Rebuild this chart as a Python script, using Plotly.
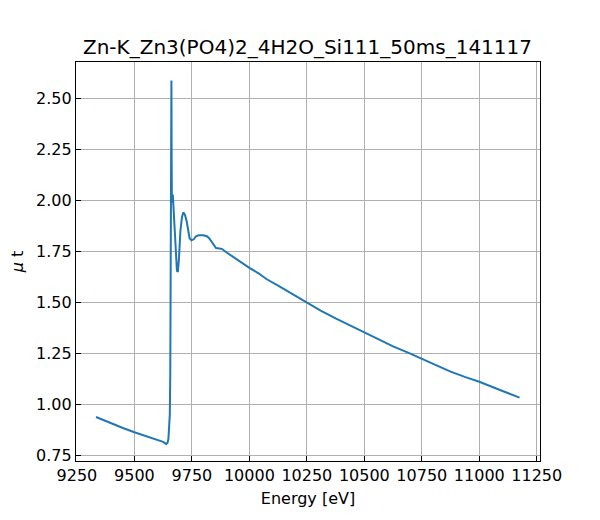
import plotly.graph_objects as go

# Spectre XANES Zn-K (énergie en eV, absorbance mu t)
energie = [9333, 9400, 9450, 9500, 9550, 9600, 9625, 9638, 9644, 9648, 9651,
           9654, 9656, 9658, 9660, 9661, 9662, 9663, 9665, 9667, 9669, 9672,
           9676, 9680, 9685, 9689, 9694, 9700, 9707, 9713, 9720, 9727, 9733,
           9740, 9748, 9758, 9768, 9780, 9800, 9815, 9825, 9835, 9845, 9855,
           9870, 9882, 9895, 9910, 9925, 9946, 9970, 10000, 10040, 10074,
           10125, 10190, 10250, 10310, 10375, 10440, 10500, 10560, 10625,
           10690, 10750, 10810, 10875, 10940, 11000, 11090, 11175]
mu_t = [0.937, 0.905, 0.883, 0.862, 0.843, 0.826, 0.815, 0.805, 0.810, 0.830,
        0.870, 0.950, 1.150, 1.700, 2.300, 2.590, 2.200, 1.990, 2.000, 2.030,
        1.980, 1.920, 1.800, 1.700, 1.655, 1.650, 1.720, 1.850, 1.920, 1.943,
        1.930, 1.900, 1.850, 1.815, 1.805, 1.810, 1.825, 1.830, 1.830, 1.825,
        1.815, 1.800, 1.780, 1.767, 1.765, 1.762, 1.750, 1.738, 1.727, 1.710,
        1.690, 1.670, 1.643, 1.615, 1.583, 1.540, 1.500, 1.460, 1.422, 1.386,
        1.353, 1.318, 1.284, 1.253, 1.224, 1.192, 1.160, 1.133, 1.110, 1.070,
        1.032]

titre = "Zn-K_Zn3(PO4)2_4H2O_Si111_50ms_141117"
x_ticks = [9250, 9500, 9750, 10000, 10250, 10500, 10750, 11000, 11250]
y_ticks = [0.75, 1.00, 1.25, 1.50, 1.75, 2.00, 2.25, 2.50]

# la page a une marge de 8 px autour du graphique : on compense
dx, dy = 8, 8

fig = go.Figure()
fig.add_trace(go.Scatter(x=energie, y=mu_t, mode="lines",
                         line=dict(color="#1f77b4", width=2)))

axe = dict(showline=True, linecolor="black", linewidth=1.3, mirror=True,
           ticks="inside", ticklen=5, tickwidth=1, tickcolor="black",
           showgrid=True, gridcolor="#b0b0b0", gridwidth=1, zeroline=False,
           automargin=False, tickfont=dict(size=16, color="black"))

fig.update_layout(
    width=600, height=520,
    paper_bgcolor="white", plot_bgcolor="white",
    font=dict(family="DejaVu Sans", color="black"),
    showlegend=False,
    margin=dict(l=76 - dx, r=60 + dx, t=62 - dy, b=59 + dy),
    title=dict(text=titre, x=(307.5 - dx) / 600, xanchor="center",
               y=1 - (47 - dy) / 520, yanchor="middle",
               font=dict(size=20, color="black")),
    xaxis=dict(axe, range=[9246, 11264], tickvals=x_ticks,
               ticktext=[str(v) for v in x_ticks],
               title=dict(text="Energy [eV]", font=dict(size=16), standoff=8)),
    yaxis=dict(axe, range=[0.721, 2.681], tickvals=y_ticks,
               ticktext=[f"{v:.2f}" for v in y_ticks],
               title=dict(text="<i>μ</i> t", font=dict(size=16), standoff=10)),
)

fig.write_html("out.html")
